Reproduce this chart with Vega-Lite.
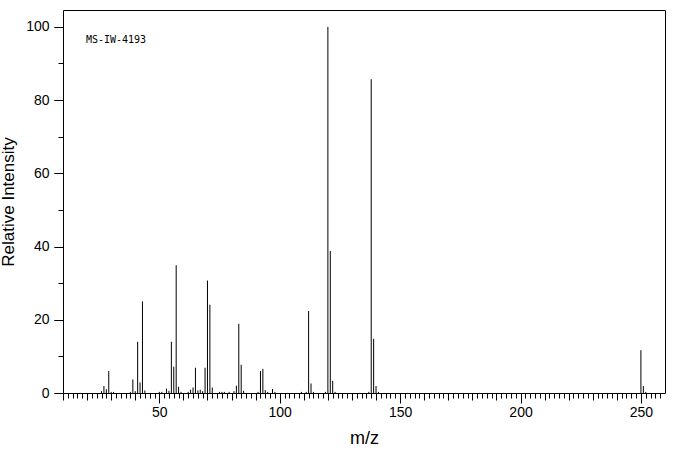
{
  "$schema": "https://vega.github.io/schema/vega-lite/v6.json",
  "width": 602,
  "height": 383,
  "autosize": {"type": "none"},
  "padding": {"left": 63, "top": 10, "right": 11, "bottom": 62},
  "background": "white",
  "config": {
    "view": {"stroke": "black", "strokeWidth": 1},
    "axis": {
      "domain": false,
      "grid": false,
      "tickColor": "black",
      "tickWidth": 1,
      "labelColor": "black",
      "titleColor": "black",
      "labelFont": "Liberation Sans",
      "titleFont": "Liberation Sans",
      "titleFontWeight": "normal",
      "labelFontSize": 14,
      "labelOverlap": false,
      "labelFlush": false
    }
  },
  "data": {"values": [
    {"mz": 26, "intensity": 0.5}, {"mz": 27, "intensity": 1.9}, {"mz": 28, "intensity": 1.0},
    {"mz": 29, "intensity": 6.0}, {"mz": 30, "intensity": 0.3}, {"mz": 31, "intensity": 0.3},
    {"mz": 38, "intensity": 0.3}, {"mz": 39, "intensity": 3.7}, {"mz": 40, "intensity": 0.5},
    {"mz": 41, "intensity": 14.0}, {"mz": 42, "intensity": 2.9}, {"mz": 43, "intensity": 25.0},
    {"mz": 44, "intensity": 0.7}, {"mz": 50, "intensity": 0.3}, {"mz": 51, "intensity": 0.3},
    {"mz": 53, "intensity": 1.2}, {"mz": 54, "intensity": 0.6}, {"mz": 55, "intensity": 14.0},
    {"mz": 56, "intensity": 7.2}, {"mz": 57, "intensity": 34.9}, {"mz": 58, "intensity": 1.7},
    {"mz": 59, "intensity": 0.3}, {"mz": 62, "intensity": 0.3}, {"mz": 63, "intensity": 0.9},
    {"mz": 64, "intensity": 1.5}, {"mz": 65, "intensity": 6.9}, {"mz": 66, "intensity": 0.7},
    {"mz": 67, "intensity": 0.9}, {"mz": 68, "intensity": 0.5}, {"mz": 69, "intensity": 6.9},
    {"mz": 70, "intensity": 30.7}, {"mz": 71, "intensity": 24.1}, {"mz": 72, "intensity": 1.5},
    {"mz": 75, "intensity": 0.3}, {"mz": 76, "intensity": 0.3}, {"mz": 77, "intensity": 0.3},
    {"mz": 79, "intensity": 0.3}, {"mz": 81, "intensity": 0.5}, {"mz": 82, "intensity": 2.0},
    {"mz": 83, "intensity": 18.9}, {"mz": 84, "intensity": 7.7}, {"mz": 85, "intensity": 0.6},
    {"mz": 91, "intensity": 0.3}, {"mz": 92, "intensity": 6.0}, {"mz": 93, "intensity": 6.6},
    {"mz": 94, "intensity": 0.8}, {"mz": 95, "intensity": 0.3}, {"mz": 97, "intensity": 1.1},
    {"mz": 98, "intensity": 0.3}, {"mz": 109, "intensity": 0.3}, {"mz": 111, "intensity": 0.3},
    {"mz": 112, "intensity": 22.4}, {"mz": 113, "intensity": 2.6}, {"mz": 114, "intensity": 0.3},
    {"mz": 119, "intensity": 0.3}, {"mz": 120, "intensity": 100.0}, {"mz": 121, "intensity": 38.8},
    {"mz": 122, "intensity": 3.3}, {"mz": 123, "intensity": 0.3}, {"mz": 137, "intensity": 0.3},
    {"mz": 138, "intensity": 85.7}, {"mz": 139, "intensity": 14.8}, {"mz": 140, "intensity": 1.9},
    {"mz": 141, "intensity": 0.3}, {"mz": 250, "intensity": 11.7}, {"mz": 251, "intensity": 1.9},
    {"mz": 252, "intensity": 0.3}
  ]},
  "resolve": {"axis": {"x": "independent", "y": "independent"}},
  "layer": [
    {
      "mark": {"type": "point", "opacity": 0},
      "encoding": {
        "x": {
          "field": "mz", "type": "quantitative",
          "scale": {"domain": [10, 260], "nice": false, "zero": false},
          "axis": {
            "orient": "bottom", "title": null, "labels": false, "tickSize": 5,
            "values": [12,14,16,18,22,24,26,28,32,34,36,38,42,44,46,48,52,54,56,58,62,64,66,68,72,74,76,78,82,84,86,88,92,94,96,98,102,104,106,108,112,114,116,118,122,124,126,128,132,134,136,138,142,144,146,148,152,154,156,158,162,164,166,168,172,174,176,178,182,184,186,188,192,194,196,198,202,204,206,208,212,214,216,218,222,224,226,228,232,234,236,238,242,244,246,248,252,254,256,258]
          }
        },
        "y": {
          "field": "intensity", "type": "quantitative",
          "scale": {"domain": [0, 104.6], "nice": false},
          "axis": {"orient": "left", "title": null, "labels": false, "tickSize": 5, "values": [10,30,50,70,90]}
        }
      }
    },
    {
      "mark": {"type": "point", "opacity": 0},
      "encoding": {
        "x": {
          "field": "mz", "type": "quantitative",
          "axis": {"orient": "bottom", "title": null, "labels": false, "tickSize": 7,
            "values": [10,20,30,40,60,70,80,90,110,120,130,140,160,170,180,190,210,220,230,240]}
        },
        "y": {
          "field": "intensity", "type": "quantitative",
          "axis": {"orient": "left", "title": null, "labels": false, "tickSize": 9, "values": [0,20,40,60,80,100]}
        }
      }
    },
    {
      "mark": {"type": "rule", "color": "black", "strokeWidth": 1},
      "encoding": {
        "x": {
          "field": "mz", "type": "quantitative",
          "axis": {
            "orient": "bottom",
            "title": "m/z",
            "titleFontSize": 18,
            "titlePadding": 10,
            "values": [50, 100, 150, 200, 250],
            "tickSize": 10,
            "labelPadding": 2
          }
        },
        "y": {
          "field": "intensity", "type": "quantitative",
          "axis": {
            "orient": "left",
            "title": "Relative Intensity",
            "titleFontSize": 17,
            "titlePadding": 8,
            "values": [0, 20, 40, 60, 80, 100],
            "tickSize": 9,
            "labelPadding": 5
          }
        },
        "y2": {"datum": 0}
      }
    },
    {
      "data": {"values": [{"label": "MS-IW-4193"}]},
      "mark": {"type": "text", "font": "DejaVu Sans Mono", "fontSize": 10, "align": "left", "baseline": "middle", "color": "black"},
      "encoding": {
        "x": {"datum": 19.5, "axis": null},
        "y": {"datum": 96.4, "axis": null},
        "text": {"field": "label"}
      }
    }
  ]
}
